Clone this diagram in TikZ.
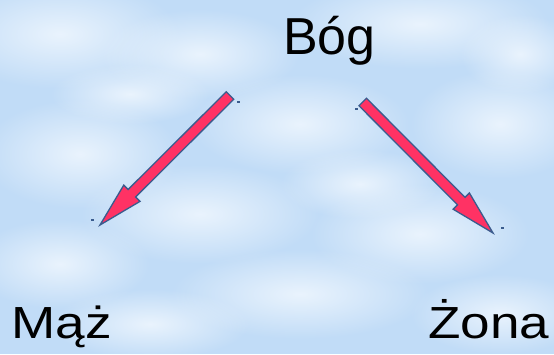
\documentclass[tikz,border=0pt]{standalone}
\usepackage{fontspec}
\setmainfont{Liberation Sans}
\usetikzlibrary{calc,fadings}
\tikzfading[name=softblob, inner color=transparent!10, outer color=transparent!100]
\definecolor{sky}{RGB}{193,220,247}
\definecolor{cloud}{RGB}{238,246,254}
\definecolor{arrowfill}{RGB}{255,50,100}
\definecolor{arrowline}{RGB}{58,92,142}
\tikzset{
  wordlabel/.style={inner sep=0pt, anchor=base, text=black},
  barrowstyle/.style={fill=arrowfill, draw=arrowline, line width=1.3pt, line join=miter},
  blob/.style={fill=cloud, path fading=softblob},
  handle/.style={fill=arrowline}
}
\newcommand\blockarrow[2]{%
  \coordinate (#1-head) at ($(#2)!45pt!(#1)$);
  \draw[barrowstyle] ($(#1)!5.3pt!90:(#2)$) -- ($(#1-head)!5.3pt!-90:(#1)$)
    -- ($(#1-head)!11.5pt!-90:(#1)$) -- (#2) -- ($(#1-head)!11.5pt!90:(#1)$)
    -- ($(#1-head)!5.3pt!90:(#1)$) -- ($(#1)!5.3pt!-90:(#2)$) -- cycle;
}
\begin{document}
\begin{tikzpicture}[x=1pt,y=1pt]
  \useasboundingbox (0,0) rectangle (554,354);
  \fill[sky] (0,0) rectangle (554,354);
  % clouds
  \fill[blob] (60,320) ellipse (120 and 55);
  \fill[blob] (200,300) ellipse (100 and 45);
  \fill[blob] (420,330) ellipse (130 and 45);
  \fill[blob] (300,230) ellipse (110 and 50);
  \fill[blob] (80,200) ellipse (100 and 55);
  \fill[blob] (500,230) ellipse (90 and 55);
  \fill[blob] (200,140) ellipse (120 and 50);
  \fill[blob] (420,120) ellipse (110 and 50);
  \fill[blob] (60,90) ellipse (90 and 45);
  \fill[blob] (300,60) ellipse (130 and 45);
  \fill[blob] (500,40) ellipse (90 and 40);
  \fill[blob] (150,30) ellipse (100 and 35);
  \fill[blob] (360,170) ellipse (80 and 35);
  \fill[blob] (130,260) ellipse (80 and 30);
  \fill[blob] (520,300) ellipse (60 and 40);
  % labels
  \node[wordlabel, font=\fontsize{52}{60}\selectfont] (god) at (329.5,299) {Bóg};
  \node[wordlabel, font=\fontsize{45}{50}\selectfont] (man) at (61.5,16) {\scalebox{1.18}[1]{Mąż}};
  \node[wordlabel, font=\fontsize{45}{50}\selectfont] (wife) at (489,16) {\scalebox{1.18}[1]{Żona}};
  % arrows
  \coordinate (a1s) at (230,258.5);
  \coordinate (a1e) at (100,129);
  \coordinate (a2s) at (362.7,252);
  \coordinate (a2e) at (493,121);
  \blockarrow{a1s}{a1e}
  \blockarrow{a2s}{a2e}
  % selection handles
  \fill[handle] (236.5,251.3) rectangle (239.5,252.8);
  \fill[handle] (90.5,133.3) rectangle (93.5,134.8);
  \fill[handle] (354.5,244.3) rectangle (357.5,245.8);
  \fill[handle] (500.5,125.3) rectangle (503.5,126.8);
\end{tikzpicture}
\end{document}
